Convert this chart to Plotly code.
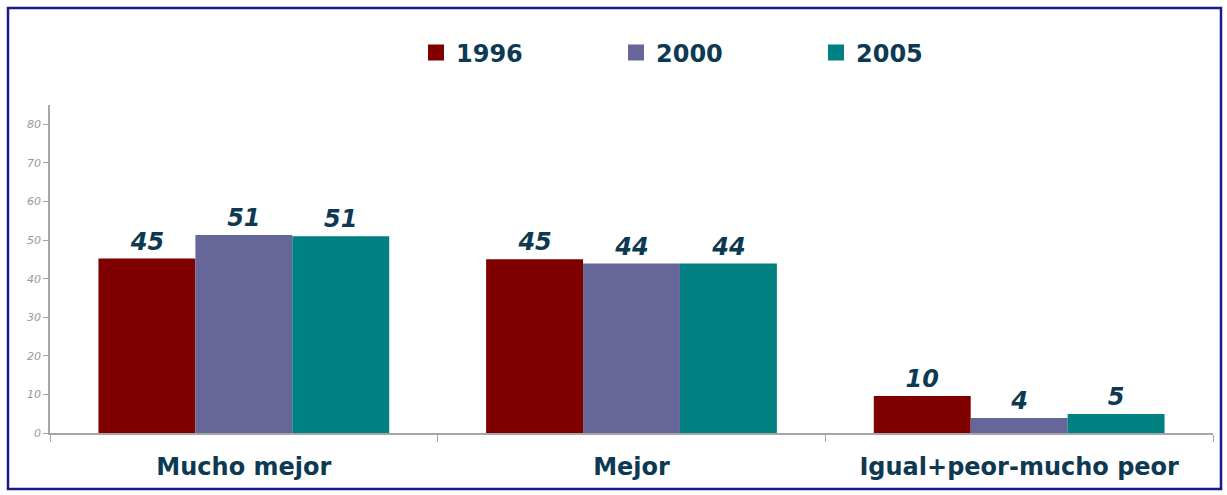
import plotly.graph_objects as go

categories = ["Mucho mejor", "Mejor", "Igual+peor-mucho peor"]
series_names = ["1996", "2000", "2005"]
values_1996 = [45.2, 45.0, 9.6]
values_2000 = [51.3, 43.9, 3.9]
values_2005 = [51.0, 43.9, 4.9]
labels_1996 = ["45", "45", "10"]
labels_2000 = ["51", "44", "4"]
labels_2005 = ["51", "44", "5"]
colors = ["#800000", "#666699", "#008080"]

TXT = "#0D3A52"
FONT = "DejaVu Sans"

fig = go.Figure()
for name, vals, labs, col in zip(series_names,
                                 [values_1996, values_2000, values_2005],
                                 [labels_1996, labels_2000, labels_2005],
                                 colors):
    fig.add_trace(go.Bar(
        name=name, x=categories, y=vals, text=labs,
        textposition="outside", cliponaxis=False, showlegend=False,
        legendgroup=name,
        marker=dict(color=col, line=dict(width=0)),
        textfont=dict(family=FONT, size=24, color=TXT, weight="bold", style="italic"),
    ))
# legend entries (square swatches like the reference)
for name, col in zip(series_names, colors):
    fig.add_trace(go.Scatter(
        name=name, x=[None], y=[None], mode="markers", legendgroup=name,
        marker=dict(symbol="square", size=16, color=col, line=dict(width=0)),
        showlegend=True,
    ))

L, R, T, B = 50, 14, 105, 62
W, H = 1227, 495
pw, ph = W - L - R, H - T - B

def px_x(x):
    return (x - L) / pw

def px_y(y):
    return (H - B - y) / ph

fig.update_layout(
    width=W, height=H,
    margin=dict(l=L, r=R, t=T, b=B, autoexpand=False),
    paper_bgcolor="white", plot_bgcolor="white",
    barmode="group", bargap=0.25, bargroupgap=0,
    font=dict(family=FONT, color=TXT),
    showlegend=True,
    legend=dict(
        orientation="h", x=px_x(416), xanchor="left", y=px_y(53), yanchor="middle",
        font=dict(family=FONT, size=24, color=TXT, weight="bold"),
        entrywidth=155, entrywidthmode="pixels", bgcolor="rgba(0,0,0,0)",
        traceorder="normal", itemsizing="trace",
    ),
    xaxis=dict(
        showline=True, linecolor="#A6A6A6", linewidth=1.5,
        ticks="outside", tickson="boundaries", ticklen=7, tickcolor="#A6A6A6",
        tickfont=dict(family=FONT, size=24, color=TXT, weight="bold"),
        ticklabelstandoff=11,
        showgrid=False, zeroline=False,
    ),
    yaxis=dict(
        range=[0, 85], dtick=10, showline=True, linecolor="#A6A6A6", linewidth=1.5,
        ticks="outside", ticklen=5, tickcolor="#A6A6A6",
        tickfont=dict(family=FONT, size=11, color="#999999", style="italic"),
        showgrid=False, zeroline=False,
    ),
    shapes=[dict(
        type="rect", xref="paper", yref="paper",
        x0=px_x(8), x1=px_x(1221), y0=px_y(489), y1=px_y(8),
        line=dict(color="#1A1A8C", width=2.5), fillcolor="rgba(0,0,0,0)", layer="below",
    )],
)

fig.write_html(
    "out.html",
    config={"displayModeBar": False},
    post_script="document.body.style.margin='0';document.body.style.overflow='hidden';",
)
